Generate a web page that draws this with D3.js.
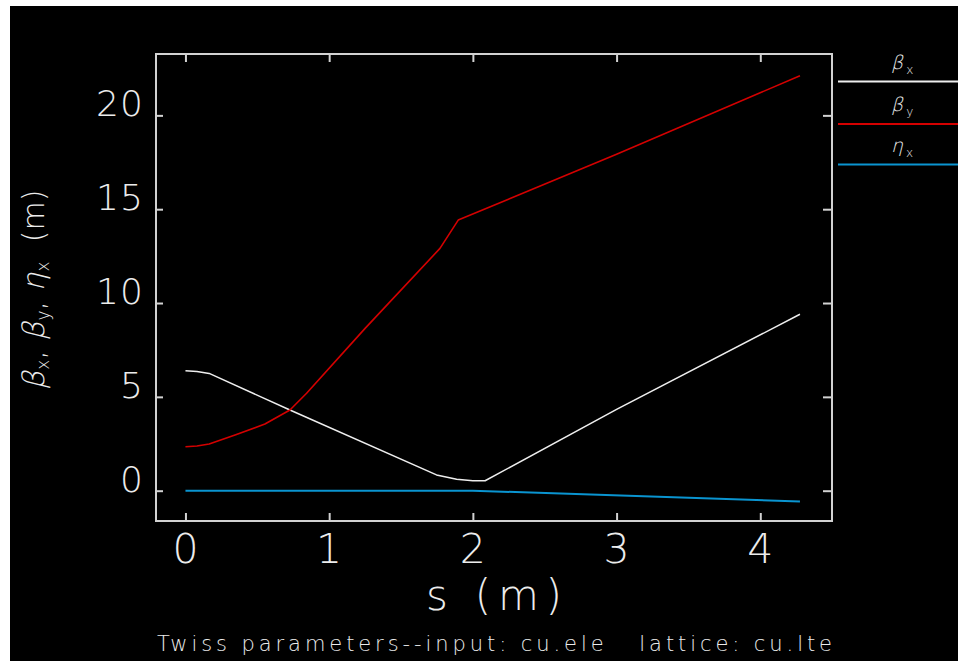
<!DOCTYPE html>
<html>
<head>
<meta charset="utf-8">
<script src="https://cdn.jsdelivr.net/npm/d3@7"></script>
<style>
  html, body { margin: 0; padding: 0; background: #ffffff; }
  svg { display: block; }
  text { font-family: "DejaVu Sans", "Liberation Sans", sans-serif; font-weight: 200; fill: #ececec; white-space: pre; }
</style>
</head>
<body>
<svg id="chart" width="958" height="661"></svg>
<script>
// ---------------- data ----------------
const sBetaX = [0, 0.08, 0.165, 0.727, 1.747, 1.887, 2.0, 2.085, 3.0, 4.276];
const betaX  = [6.39, 6.35, 6.25, 4.30, 0.84, 0.61, 0.53, 0.53, 4.33, 9.40];

const sBetaY = [0, 0.08, 0.165, 0.35, 0.553, 0.727, 0.843, 1.25, 1.771, 1.898, 3.0, 4.276];
const betaY  = [2.34, 2.38, 2.49, 2.98, 3.55, 4.30, 5.19, 8.65, 12.91, 14.42, 17.93, 22.11];

const sEtaX = [0, 1.0, 2.0, 4.276];
const etaX  = [0, 0, 0, -0.57];

const xTicks = [0, 1, 2, 3, 4];
const yTicks = [0, 5, 10, 15, 20];
const xTickLabels = ["0", "1", "2", "3", "4"];
const yTickLabels = ["0", "5", "10", "15", "20"];

const seriesNames = [
  {sym: "β", sub: "x"},
  {sym: "β", sub: "y"},
  {sym: "η", sub: "x"}
];
const seriesColors = ["#eeeeee", "#d40000", "#0a94d0"];

const xTitle = "s (m)";
const plotTitle = "Twiss parameters--input: cu.ele   lattice: cu.lte";

// ---------------- layout ----------------
const svg = d3.select("#chart");
const W = 958, H = 661;
const pL = 156, pR = 832, pT = 54, pB = 521;

svg.append("rect").attr("x", 0).attr("y", 0).attr("width", W).attr("height", H).attr("fill", "#ffffff");
svg.append("rect").attr("x", 10).attr("y", 6).attr("width", W - 10).attr("height", H - 6).attr("fill", "#000000");

const x = d3.scaleLinear().domain([-0.205, 4.499]).range([pL, pR]);
const y = d3.scaleLinear().domain([-1.615, 23.27]).range([pB, pT]);

const frameColor = "#d2d2d2";

function styleAxis(g) {
  g.select(".domain").remove();
  g.selectAll(".tick line").attr("stroke", frameColor).attr("stroke-width", 2);
  g.selectAll(".tick text").remove();
}
svg.append("g").attr("transform", `translate(0,${pB})`)
  .call(d3.axisBottom(x).tickValues(xTicks).tickSize(-8).tickSizeOuter(0).tickFormat(""))
  .call(styleAxis);
svg.append("g").attr("transform", `translate(0,${pT})`)
  .call(d3.axisTop(x).tickValues(xTicks).tickSize(-8).tickSizeOuter(0).tickFormat(""))
  .call(styleAxis);
svg.append("g").attr("transform", `translate(${pL},0)`)
  .call(d3.axisLeft(y).tickValues(yTicks).tickSize(-7).tickSizeOuter(0).tickFormat(""))
  .call(styleAxis);
svg.append("g").attr("transform", `translate(${pR},0)`)
  .call(d3.axisRight(y).tickValues(yTicks).tickSize(-9).tickSizeOuter(0).tickFormat(""))
  .call(styleAxis);

svg.append("rect")
  .attr("x", pL).attr("y", pT).attr("width", pR - pL).attr("height", pB - pT)
  .attr("fill", "none").attr("stroke", frameColor).attr("stroke-width", 2);

// tick labels
svg.append("g").selectAll("text").data(xTicks).join("text")
  .attr("x", d => x(d)).attr("y", 563)
  .attr("text-anchor", "middle")
  .style("font-size", "41px")
  .text((d, i) => xTickLabels[i]);

svg.append("g").selectAll("text").data(yTicks).join("text")
  .attr("x", 143).attr("y", d => y(d) + 1)
  .attr("text-anchor", "end")
  .style("font-size", "36px")
  .each(function(d, i) {
    const t = d3.select(this).text(yTickLabels[i]);
    if (yTickLabels[i].length === 2) t.attr("textLength", 47).attr("lengthAdjust", "spacing");
  });

svg.append("text")
  .attr("x", 494).attr("y", 610)
  .attr("text-anchor", "middle")
  .attr("textLength", 136).attr("lengthAdjust", "spacing")
  .style("font-size", "42px")
  .text(xTitle);

svg.append("text")
  .attr("x", 494.5).attr("y", 651)
  .attr("text-anchor", "middle")
  .attr("textLength", 675).attr("lengthAdjust", "spacing")
  .style("font-size", "21px")
  .text(plotTitle);

// helper: lay out a sequence of parts along a baseline, Greek parts slanted
function runParts(g, parts, baseSize, subSize, subDrop) {
  let cx = 0;
  parts.forEach(p => {
    const size = p.sub ? subSize : baseSize;
    const dy = p.sub ? subDrop : 0;
    const t = g.append("text")
      .style("font-size", size + "px")
      .text(p.t);
    if (p.greek) {
      t.attr("transform", `translate(${cx},${dy}) skewX(-14)`).attr("x", 0).attr("y", 0);
    } else {
      t.attr("x", cx).attr("y", dy);
    }
    cx += t.node().getComputedTextLength() + (p.gap || 0);
  });
  return cx;
}

// y axis title (rotated, reads bottom to top, starts at y=390)
const ytG = svg.append("g").attr("transform", "translate(44,390) rotate(-90)");
runParts(ytG, [
  {t: "β", greek: true, gap: 1}, {t: "x", sub: true}, {t: ", "},
  {t: "β", greek: true, gap: 1}, {t: "y", sub: true}, {t: ", "},
  {t: "η", greek: true, gap: 1}, {t: "x", sub: true}, {t: "  (m)"}
], 30, 17, 5);

// data lines
const line = d3.line().x(d => x(d[0])).y(d => y(d[1]));
const seriesData = [
  d3.zip(sBetaX, betaX),
  d3.zip(sBetaY, betaY),
  d3.zip(sEtaX, etaX)
];
const widths = [1.5, 1.6, 2];
[0, 1, 2].forEach(i => {
  svg.append("path")
    .datum(seriesData[i])
    .attr("d", line)
    .attr("fill", "none")
    .attr("stroke", seriesColors[i])
    .attr("stroke-width", widths[i])
    .attr("stroke-linejoin", "round");
});

// legend
const legY = [81.5, 124, 164.5];
seriesNames.forEach((s, i) => {
  svg.append("line")
    .attr("x1", 838).attr("x2", 958)
    .attr("y1", legY[i]).attr("y2", legY[i])
    .attr("stroke", seriesColors[i]).attr("stroke-width", 2);
  const g = svg.append("g").attr("transform", `translate(891,${legY[i] - 13})`);
  runParts(g, [{t: s.sym, greek: true, gap: 3}, {t: s.sub, sub: true}], 19, 12, 5);
});
</script>
</body>
</html>
